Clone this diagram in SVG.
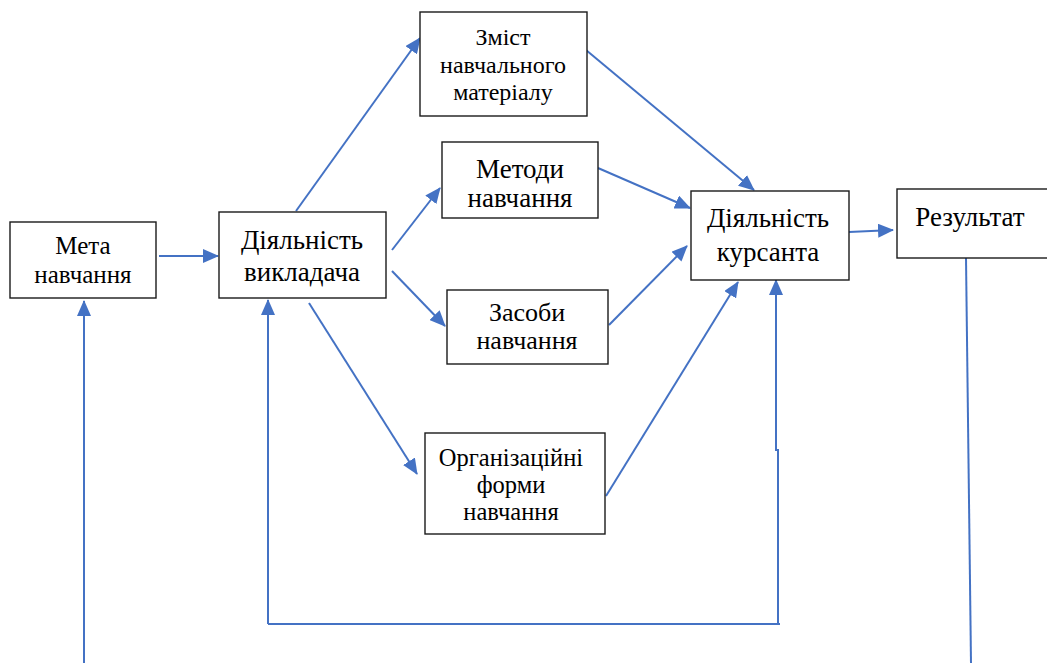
<svg xmlns="http://www.w3.org/2000/svg" width="1047" height="663" viewBox="0 0 1047 663">
<style>
.box{fill:#fff;stroke:#1a1a1a;stroke-width:1.4}
.t{font-family:"Liberation Serif","Times New Roman",serif;fill:#000;text-anchor:middle}
.c{stroke:#4472C4;stroke-width:2;fill:none}
.a{marker-end:url(#ah)}
</style>
<defs>
<marker id="ah" markerUnits="userSpaceOnUse" markerWidth="16" markerHeight="14" refX="15" refY="7" orient="auto" viewBox="0 0 16 14">
<path d="M0,0 L16,7 L0,14 z" fill="#4472C4"/>
</marker>
</defs>
<g id="connectors">
<line class="c a" x1="159" y1="256" x2="218" y2="256"/>
<line class="c a" x1="296" y1="211" x2="420" y2="38"/>
<line class="c a" x1="392" y1="250" x2="440" y2="188"/>
<line class="c a" x1="392" y1="271" x2="445" y2="326"/>
<line class="c a" x1="309" y1="303" x2="417" y2="474"/>
<line class="c a" x1="586" y1="50" x2="754" y2="190"/>
<line class="c a" x1="598" y1="168" x2="690" y2="208"/>
<line class="c a" x1="609" y1="325" x2="687" y2="246"/>
<line class="c a" x1="606" y1="496" x2="738" y2="282"/>
<line class="c a" x1="849" y1="232" x2="893" y2="230"/>
<line class="c" x1="966" y1="258" x2="971" y2="663"/>
<line class="c a" x1="84" y1="663" x2="84" y2="301"/>
<polyline class="c" points="268,624 780,624"/>
<line class="c a" x1="268" y1="624" x2="268" y2="300"/>
<polyline class="c a" points="778,624 778,450 776,450 776,280"/>
</g>
<g id="meta">
<rect class="box" x="10" y="222" width="146" height="76"/>
<text class="t" x="83" y="254" font-size="25">Мета</text>
<text class="t" x="83" y="283" font-size="25">навчання</text>
</g>
<g id="vykladach">
<rect class="box" x="219" y="212" width="167" height="86"/>
<text class="t" x="302" y="249" font-size="27">Діяльність</text>
<text class="t" x="302" y="281" font-size="27">викладача</text>
</g>
<g id="zmist">
<rect class="box" x="420" y="12" width="167" height="104"/>
<text class="t" x="503" y="45" font-size="24">Зміст</text>
<text class="t" x="503" y="73" font-size="24">навчального</text>
<text class="t" x="503" y="100" font-size="24">матеріалу</text>
</g>
<g id="metody">
<rect class="box" x="442" y="142" width="156" height="76"/>
<text class="t" x="520" y="178" font-size="27">Методи</text>
<text class="t" x="520" y="207" font-size="27">навчання</text>
</g>
<g id="zasoby">
<rect class="box" x="447" y="290" width="161" height="74"/>
<text class="t" x="527" y="321" font-size="26">Засоби</text>
<text class="t" x="527" y="349" font-size="26">навчання</text>
</g>
<g id="orgformy">
<rect class="box" x="425" y="433" width="180" height="101"/>
<text class="t" x="511" y="466" font-size="24.5">Організаційні</text>
<text class="t" x="511" y="493" font-size="24.5">форми</text>
<text class="t" x="511" y="520" font-size="24.5">навчання</text>
</g>
<g id="kursant">
<rect class="box" x="691" y="191" width="158" height="89"/>
<text class="t" x="768" y="227" font-size="27">Діяльність</text>
<text class="t" x="768" y="261" font-size="27">курсанта</text>
</g>
<g id="rezultat">
<rect class="box" x="897" y="189" width="160" height="69"/>
<text class="t" x="970" y="226" font-size="27">Результат</text>
</g>
</svg>
